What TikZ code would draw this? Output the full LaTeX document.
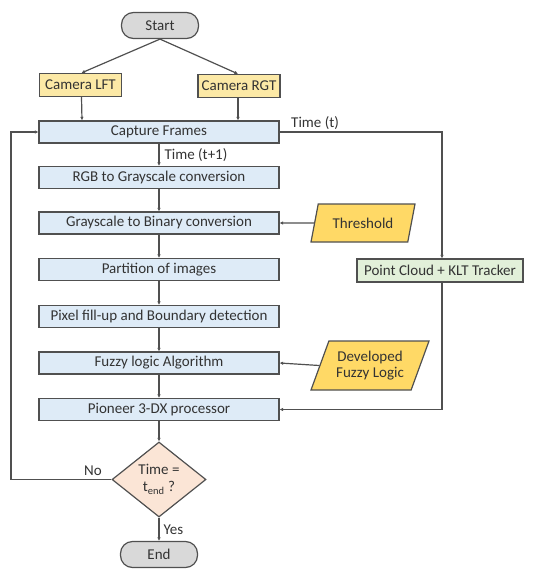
\documentclass[tikz,border=0pt]{standalone}
\usepackage{fontspec}
\setmainfont{Carlito}
\usetikzlibrary{shapes.geometric,arrows.meta}
\definecolor{boxblue}{HTML}{DEEBF7}
\definecolor{camyel}{HTML}{FCE9A6}
\definecolor{paryel}{HTML}{FFD966}
\definecolor{ptgreen}{HTML}{E2F0D9}
\definecolor{peach}{HTML}{FBE5D6}
\definecolor{termgray}{HTML}{D9D9D9}
\definecolor{edge}{HTML}{505050}
\definecolor{txt}{HTML}{333333}
\begin{document}
\begin{tikzpicture}[x=1pt,y=-1pt,
  every node/.style={font=\fontsize{15}{16}\selectfont, text=txt, inner sep=1pt},
  proc/.style={draw=edge, line width=1.2pt, fill=boxblue, minimum width=240pt, minimum height=22pt},
  cam/.style={draw=edge, line width=1.2pt, fill=camyel, minimum width=82pt, minimum height=23pt},
  term/.style={draw=edge, line width=1.2pt, fill=termgray, rounded corners=12pt, minimum width=77pt, minimum height=26pt},
  para/.style={draw=edge, line width=1.2pt, fill=paryel, trapezium, trapezium left angle=60, trapezium right angle=120, trapezium stretches body, align=center},
  dec/.style={draw=edge, line width=1.2pt, fill=peach, diamond, minimum width=94pt, minimum height=75pt, align=center, inner sep=0pt},
  flow/.style={draw=edge, line width=1.2pt, -{Latex[length=3.5pt,width=3.5pt]}},
  lbl/.style={font=\fontsize{15}{16}\selectfont}
]
\useasboundingbox (0,0) rectangle (539,569);
\node[term] (start) at (160,25.5) {Start};
\node[cam] (lft) at (80.5,85) {Camera LFT};
\node[cam] (rgt) at (239,86) {Camera RGT};
\node[proc] (cap) at (159,132) {Capture Frames};
\node[proc] (rgb) at (159,177.5) {RGB to Grayscale conversion};
\node[proc] (bin) at (159,223) {Grayscale to Binary conversion};
\node[proc] (part) at (159,269.5) {Partition of images};
\node[proc] (pix) at (159,316.5) {Pixel fill-up and Boundary detection};
\node[proc] (fuzzy) at (159,363) {Fuzzy logic Algorithm};
\node[proc] (pio) at (159,409.5) {Pioneer 3-DX processor};
\node[dec] (dec) at (159,479.5) {Time =\\[1pt] t\textsubscript{end} ?};
\node[term] (end) at (159,554.5) {End};
\node[para, minimum width=104pt, minimum height=38pt] (thr) at (363,223) {Threshold};
\node[para, minimum width=118pt, minimum height=49pt] (dev) at (370,365.5) {Developed\\Fuzzy Logic};
\node[draw=edge, line width=1.2pt, fill=ptgreen, minimum width=166pt, minimum height=23pt] (pc) at (440,270.5) {Point Cloud + KLT Tracker};

\coordinate (tr) at (442,132);
\coordinate (br) at (442,409.5);
\coordinate (bl) at (11,479.5);
\coordinate (tl) at (11,132);

\draw[flow] (start.south) -- ([xshift=1pt]lft.north);
\draw[flow] (start.south) -- ([xshift=-1pt]rgt.north);
\draw[flow] ([xshift=1pt]lft.south) -- ([xshift=1.5pt]lft.south |- cap.north);
\draw[flow] ([xshift=-1pt]rgt.south) -- ([xshift=-1pt]rgt.south |- cap.north);
\draw[flow] (cap) -- (rgb) node[lbl, midway, right=4pt] {Time (t+1)};
\draw[flow] (rgb) -- (bin);
\draw[flow] (bin) -- (part);
\draw[flow] (part) -- (pix);
\draw[flow] (pix) -- (fuzzy);
\draw[flow] (fuzzy) -- (pio);
\draw[flow] (pio) -- (dec);
\draw[flow] (dec) -- (end) node[lbl, midway, right=3pt] {Yes};
\draw[flow] (thr.west) -- (bin.east);
\draw[flow] (dev.west) -- (fuzzy.east);
\draw[flow] (cap.east) -- (tr) -- (pc.north -| tr);
\node[lbl, anchor=south west] (tt) at (290,131) {Time (t)};
\draw[flow] (pc.south -| br) -- (br) -- (pio.east);
\draw[flow] (dec.west) -- (bl) -- (tl) -- (cap.west);
\node[lbl, anchor=south] (no) at (93,477) {No};
\end{tikzpicture}
\end{document}
